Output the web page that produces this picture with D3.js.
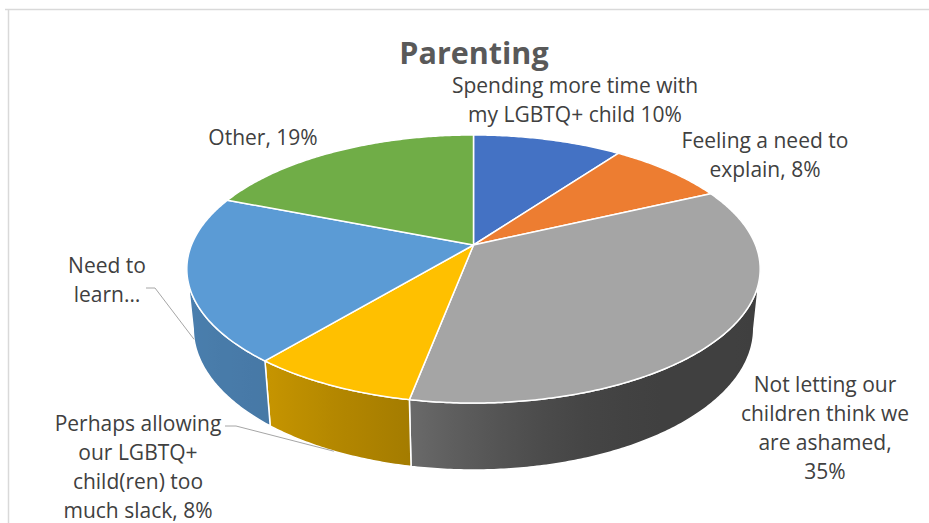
<!DOCTYPE html>
<html><head><meta charset="utf-8">
<script src="https://cdn.jsdelivr.net/npm/d3@7"></script>
<style>body{margin:0;background:#fff} svg{display:block}</style>
</head><body>
<svg id="c" width="929" height="523"></svg>
<script>
// ---------- data ----------
const title = "Parenting";
const categories = [
  "Spending more time with my LGBTQ+ child",
  "Feeling a need to explain",
  "Not letting our children think we are ashamed",
  "Perhaps allowing our LGBTQ+ child(ren) too much slack",
  "Need to learn…",
  "Other"
];
const values = [10, 8, 35, 8, 20, 19];
const colors = ["#4472C4", "#ED7D31", "#A5A5A5", "#FFC000", "#5B9BD5", "#70AD47"];
const labelLines = [
  ["Spending more time with", "my LGBTQ+ child 10%"],
  ["Feeling a need to", "explain, 8%"],
  ["Not letting our", "children think we", "are ashamed,", "35%"],
  ["Perhaps allowing", "our LGBTQ+", "child(ren) too", "much slack, 8%"],
  ["Need to", "learn…"],
  ["Other, 19%"]
];

// ---------- layout ----------
const W = 929, H0 = 523;
const svg = d3.select("#c");
const labelPos = [
  {x: 575, y: 93}, {x: 765, y: 148}, {x: 825, y: 392},
  {x: 138, y: 431}, {x: 107, y: 273}, {x: 263, y: 145}
];
const leaders = {3: {from: [225, 426], knee: [236, 426]}, 4: {from: [146, 288], knee: [155, 288]}};
const lineH = 29;
const font = "'Open Sans', sans-serif";

// frame
svg.append("line").attr("x1", 5).attr("x2", W).attr("y1", 9.5).attr("y2", 9.5)
  .attr("stroke", "#d9d9d9").attr("stroke-width", 1.5);
svg.append("line").attr("x1", 8.5).attr("x2", 8.5).attr("y1", 9).attr("y2", H0)
  .attr("stroke", "#d9d9d9").attr("stroke-width", 1.5);

// 3D perspective projection
const cx = 473.5, cy = 245, f = 1399, R = 0.2016, TH = 0.0483, Dist = 1;
const phi = Math.asin(0.46);
function proj(theta, h) {
  const X = R * Math.sin(theta), Z = -R * Math.cos(theta);
  const v = -Z * Math.sin(phi) + h * Math.cos(phi);
  const d = Dist - Z * Math.cos(phi) - h * Math.sin(phi);
  return [cx + f * X / d, cy - f * v / d];
}
const kk = R * Math.cos(phi) / Dist;
const silR = Math.acos(-kk), silL = 2 * Math.PI - Math.acos(-kk);

const pie = d3.pie().sort(null).value(d => d).startAngle(0).endAngle(2 * Math.PI);
const arcs = pie(values);
const line = d3.line();
function arcPts(a, b, h) {
  const n = Math.max(2, Math.ceil(Math.abs(b - a) / 0.01));
  return d3.range(n + 1).map(i => proj(a + (b - a) * i / n, h));
}

const deg = Math.PI / 180;
const shade = d3.scaleLinear()
  .domain([90, 150, 165, 180, 190, 220, 270].map(d => d * deg))
  .range([0.38, 0.39, 0.43, 0.54, 0.64, 0.78, 0.84]).clamp(true);
function scaleColor(c, k) {
  const r = d3.rgb(c);
  return d3.rgb(r.r * k, r.g * k, r.b * k).formatHex();
}

const defs = svg.append("defs");
const gWalls = svg.append("g");
arcs.forEach((a, i) => {
  const s = Math.max(a.startAngle, silR), e = Math.min(a.endAngle, silL);
  if (e <= s) return;
  const top = arcPts(s, e, 0), bot = arcPts(e, s, -TH);
  const x1 = proj(s, 0)[0], x2 = proj(e, 0)[0];
  const gid = "wall" + i;
  const gr = defs.append("linearGradient").attr("id", gid)
    .attr("gradientUnits", "userSpaceOnUse")
    .attr("x1", x1).attr("x2", x2).attr("y1", 0).attr("y2", 0);
  const n = 12;
  d3.range(n + 1).forEach(j => {
    const t = s + (e - s) * j / n;
    const x = proj(t, 0)[0];
    gr.append("stop").attr("offset", Math.max(0, Math.min(1, (x - x1) / (x2 - x1))))
      .attr("stop-color", scaleColor(colors[i], shade(t)));
  });
  gWalls.append("path").attr("d", line(top.concat(bot)) + "Z")
    .attr("fill", `url(#${gid})`).attr("stroke", "#fff").attr("stroke-width", 1.5)
    .attr("stroke-linejoin", "round");
});

const gTop = svg.append("g");
arcs.forEach((a, i) => {
  const pts = [[cx, cy]].concat(arcPts(a.startAngle, a.endAngle, 0));
  gTop.append("path").attr("d", line(pts) + "Z")
    .attr("fill", colors[i]).attr("stroke", "#fff").attr("stroke-width", 1.5)
    .attr("stroke-linejoin", "round");
});

// leaders
Object.keys(leaders).forEach(k => {
  const a = arcs[k], L = leaders[k];
  const mid = (a.startAngle + a.endAngle) / 2;
  const end = proj(mid, -TH);
  svg.append("path").attr("d", line([L.from, L.knee, end]))
    .attr("fill", "none").attr("stroke", "#a6a6a6").attr("stroke-width", 1);
});

// title
svg.append("text").attr("x", 474).attr("y", 64).attr("text-anchor", "middle")
  .attr("font-family", font).attr("font-weight", "bold").attr("font-size", 30.5)
  .attr("fill", "#595959").text(title);

// labels
labelLines.forEach((lines, i) => {
  const t = svg.append("text").attr("text-anchor", "middle")
    .attr("font-family", font).attr("font-size", 21).attr("fill", "#404040");
  lines.forEach((s, j) => {
    t.append("tspan").attr("x", labelPos[i].x).attr("y", labelPos[i].y + j * lineH).text(s);
  });
});
</script>
</body></html>
